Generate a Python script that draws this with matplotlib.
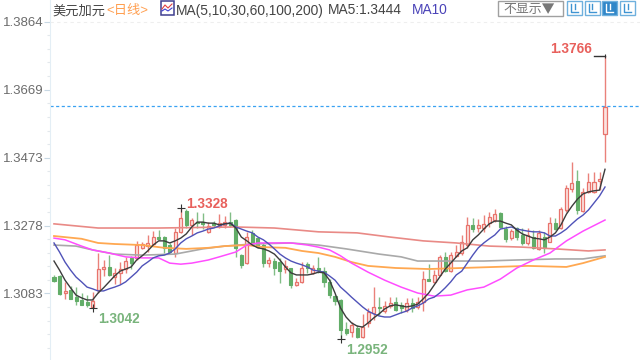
import numpy as np
import matplotlib
matplotlib.use("Agg")
import matplotlib.pyplot as plt
from matplotlib.patches import Rectangle

plt.rcParams['font.family'] = ['Liberation Sans', 'Noto Sans CJK SC', 'DejaVu Sans']

# Prices are written in units of 0.0001
direction = ("g g r g g g g r r r g r r r g r r r r g g g r r g r g g r g r r g g g r g g g r g g r g r r g r g "
             "g g g g g r g r r r g r r g g r g r r g r r g r r r r g r r r r g g r g g r g r g r g r r r g r r r r r").split()

tops = [13130,13133,13090,13093,13072,13064,13058,13061,13153,13159,13159,13142,13153,13176,13185,13222,13225,13228,13245,13245,
        13245,13222,13260,13300,13320,13294,13288,13288,13277,13285,13285,13288,13288,13294,13193,13245,13257,13242,13222,13179,
        13176,13173,13162,13156,13116,13156,13167,13156,13156,13147,13116,13075,13064,12980,12992,12983,12986,13029,13044,13044,
        13047,13055,13058,13050,13055,13055,13058,13124,13124,13136,13188,13188,13193,13202,13231,13280,13280,13280,13283,13303,
        13311,13314,13268,13262,13271,13251,13251,13245,13257,13245,13285,13285,13326,13386,13400,13406,13375,13403,13403,13412,13619]
bottoms = [13118,13081,13084,13067,13061,13050,13050,13044,13093,13153,13136,13130,13142,13153,13170,13185,13214,13219,13225,13240,
           13214,13202,13199,13260,13280,13280,13285,13283,13260,13280,13277,13280,13280,13214,13165,13170,13228,13216,13170,13170,
           13156,13147,13153,13107,13107,13116,13156,13142,13150,13116,13078,13061,12978,12969,12972,12957,12957,12998,13027,13041,
           13032,13047,13035,13041,13035,13041,13044,13058,13118,13116,13136,13147,13147,13191,13199,13222,13268,13271,13271,13285,
           13294,13274,13240,13242,13245,13228,13228,13214,13211,13214,13231,13268,13271,13323,13383,13323,13320,13375,13375,13406,13541]
highs = [13136,13136,13116,13104,13101,13084,13078,13087,13199,13179,13193,13156,13173,13188,13191,13234,13231,13251,13262,13265,
         13248,13228,13271,13328,13326,13300,13317,13314,13288,13291,13311,13306,13317,13297,13196,13260,13265,13245,13228,13188,
         13185,13185,13179,13156,13127,13173,13173,13165,13188,13159,13124,13078,13067,13001,13001,12992,13023,13041,13101,13072,
         13061,13072,13072,13058,13070,13070,13072,13147,13167,13150,13193,13202,13202,13222,13251,13303,13300,13297,13308,13317,
         13326,13317,13277,13268,13274,13271,13271,13265,13265,13260,13303,13300,13332,13395,13461,13438,13386,13429,13432,13432,13766]
lows = [13116,13078,13067,13067,13050,13050,13044,13042,13084,13133,13133,13110,13110,13142,13153,13179,13211,13202,13219,13237,
        13199,13199,13188,13257,13271,13251,13271,13268,13257,13274,13271,13271,13274,13188,13156,13167,13222,13214,13159,13159,
        13136,13113,13142,13098,13104,13113,13142,13139,13142,13101,13070,13050,12952,12963,12957,12955,12955,12986,13006,13021,
        13027,13041,13032,13027,13029,13029,13038,13032,13118,13113,13136,13144,13144,13188,13193,13214,13260,13260,13260,13274,
        13288,13271,13231,13237,13237,13222,13222,13211,13208,13199,13231,13265,13268,13317,13375,13311,13317,13372,13372,13380,13461]

ma5 = [13176,13150,13121,13099,13078,13070,13064,13064,13084,13099,13116,13133,13147,13153,13159,13179,13191,13205,13222,13234,
       13234,13228,13234,13242,13254,13274,13288,13288,13285,13285,13280,13283,13285,13271,13245,13234,13222,13214,13211,13205,
       13196,13179,13159,13142,13136,13136,13136,13139,13144,13142,13121,13084,13041,13015,12998,12989,12986,12998,13012,13024,
       13038,13047,13050,13047,13044,13047,13052,13067,13084,13107,13130,13153,13170,13188,13205,13214,13237,13251,13268,13283,
       13291,13291,13285,13280,13265,13254,13248,13242,13240,13237,13245,13257,13280,13311,13334,13354,13369,13375,13378,13380,13440]
ma10 = [13228,13202,13173,13150,13130,13116,13101,13096,13090,13090,13096,13101,13107,13116,13130,13144,13162,13173,13185,13191,
        13193,13199,13211,13228,13240,13248,13257,13262,13268,13271,13277,13283,13285,13274,13268,13262,13257,13245,13237,13225,
        13211,13196,13185,13176,13170,13165,13159,13150,13147,13144,13133,13121,13101,13087,13072,13058,13044,13032,13024,13018,
        13015,13015,13021,13027,13032,13041,13047,13055,13067,13072,13084,13099,13116,13136,13147,13170,13193,13214,13228,13240,
        13251,13268,13271,13274,13268,13265,13262,13260,13260,13257,13248,13248,13257,13268,13283,13297,13308,13323,13343,13363,13389]

ma30_idx = [0,2,5,7,10,13,16,19,21,23,25,28,30,33,35,37,43,46,48,50,52,54,57,60,63,66,69,72,75,78,81,84,87,90,93,96,100]
ma30 = [13242,13237,13219,13208,13199,13188,13185,13185,13170,13167,13170,13179,13188,13202,13222,13228,13228,13222,13216,13208,
        13191,13170,13144,13121,13101,13084,13075,13078,13093,13101,13124,13156,13179,13199,13234,13262,13294]
ma60_idx = [0,5,8,11,16,20,24,28,31,35,38,42,45,48,51,54,57,62,68,74,80,86,93,96,100]
ma60 = [13248,13240,13228,13225,13222,13214,13211,13214,13219,13222,13216,13214,13205,13199,13188,13173,13162,13156,13153,13156,
        13159,13162,13159,13170,13188]
ma100_idx = [0,4,7,11,16,22,27,31,36,43,48,53,59,63,66,72,78,84,91,96,100]
ma100 = [13222,13219,13208,13196,13193,13196,13211,13219,13225,13228,13222,13211,13196,13188,13176,13176,13176,13179,13182,13182,13191]
ma200_idx = [0,8,19,33,40,48,55,61,67,73,79,85,91,97,100]
ma200 = [13283,13271,13271,13274,13271,13260,13257,13245,13234,13228,13219,13216,13211,13205,13208]

y_ticks = [1.3083, 1.3278, 1.3473, 1.3669, 1.3864]
y_tick_labels = ["1.3083", "1.3278", "1.3473", "1.3669", "1.3864"]
last_price = 1.3621

RED, RED_FILL, GREEN = "#e8736c", "#fbe3e0", "#62ad68"

fig = plt.figure(figsize=(6.4, 3.6), dpi=100, facecolor="white")
ax = fig.add_axes([0, 0, 1, 1])
ax.set_xlim(-9.8, 106.35)
ax.set_ylim(1.3927 - 360 * 0.0002877, 1.3927)

n = len(highs)
xs = np.arange(n)
to_price = lambda a: np.asarray(a, float) / 1e4
is_up = np.array([d == "r" for d in direction])
t, b, h, l = map(to_price, (tops, bottoms, highs, lows))

ax.vlines(xs[is_up], l[is_up], h[is_up], color=RED, lw=1.0, alpha=.9, zorder=2)
ax.vlines(xs[~is_up], l[~is_up], h[~is_up], color=GREEN, lw=1.0, alpha=.8, zorder=2)
ax.bar(xs[is_up], (t - b)[is_up], bottom=b[is_up], width=0.55, facecolor=RED_FILL, edgecolor=RED, lw=0.9, zorder=3)
ax.bar(xs[~is_up], (t - b)[~is_up], bottom=b[~is_up], width=0.55, facecolor=GREEN, edgecolor=GREEN, lw=0.8, zorder=3)

ax.plot(ma200_idx, to_price(ma200), color="#e98a86", lw=1.2, zorder=4)
ax.plot(ma100_idx, to_price(ma100), color="#a9a9a9", lw=1.2, zorder=4)
ax.plot(ma60_idx, to_price(ma60), color="#ffa851", lw=1.3, zorder=4)
ax.plot(ma30_idx, to_price(ma30), color="#ff4dff", lw=1.1, zorder=5)
ax.plot(xs, to_price(ma10), color="#4f52b8", lw=1.0, zorder=6)
ax.plot(xs, to_price(ma5), color="#3c3c3c", lw=1.0, zorder=7)

# axis
for s in ("top", "right", "bottom"):
    ax.spines[s].set_visible(False)
ax.spines["left"].set_position(("data", -0.72))
ax.spines["left"].set_color("#e3eef5")
ax.patch.set_alpha(0)
ax.set_xticks([])
ax.set_yticks(y_ticks)
ax.set_yticklabels(y_tick_labels, fontsize=9.5, color="#6b6b6b")
ax.tick_params(axis="y", which="major", length=4, color="#c8d8e4", width=0.8, pad=0.5)
ax.set_yticks([v + k * 0.00391 for v in y_ticks for k in range(1, 5)][:-4] +
              [y_ticks[0] - k * 0.00391 for k in range(1, 5)], minor=True)
ax.tick_params(axis="y", which="minor", length=2, color="#e3e8ec", width=0.8)

ax.plot([-0.72, 106.35], [y_ticks[-1]] * 2, color="#eeeeee", lw=0.8, ls=(0, (3, 3)), zorder=1)
ax.plot([-0.72, 106.35], [last_price] * 2, color="#3aa2f2", lw=0.9, ls=(0, (2.5, 2)), zorder=1)

# extreme markers
ax.plot([98, 100], [h[100]] * 2, color="#333333", lw=1.0, zorder=8)
ax.plot([100], [h[100]], marker="|", ms=3, color="#333333", mew=.8, zorder=8)
for i, v in ((23, h[23]), (7, l[7]), (52, l[52])):
    ax.plot([i], [v], marker="+", ms=6, color="#333333", mew=.8, zorder=8)
ax.text(97.7, 1.3766 + 0.0019, "1.3766", color="#e8605c", fontsize=9.8, fontweight="bold", ha="right", va="center")
ax.text(24.0, 1.3328 + 0.0011, "1.3328", color="#e8605c", fontsize=9.8, fontweight="bold", ha="left", va="center")
ax.text(8.0, 1.3042 - 0.0033, "1.3042", color="#79b47c", fontsize=9.8, fontweight="bold", ha="left", va="center")
ax.text(53.0, 1.2952 - 0.0033, "1.2952", color="#79b47c", fontsize=9.8, fontweight="bold", ha="left", va="center")

# header chrome, in pixel coordinates
top = fig.add_axes([0, 0, 1, 1], zorder=10)
top.set_xlim(0, 640)
top.set_ylim(360, 0)
top.axis("off")
top.patch.set_alpha(0)
top.text(52, 11, "美元加元", fontsize=9.5, color="#444444", va="center")
top.text(106, 11, "<日线>", fontsize=9.5, color="#ff9f50", va="center")
top.add_patch(Rectangle((160.5, 0.5), 13, 14, fc="white", ec="#3f3f8f", lw=1.1))
top.plot([162, 165, 168, 172], [9, 5, 8, 4], color="#e04040", lw=.8)
top.plot([162, 165, 168, 172], [11, 9, 11, 8], color="#4040d0", lw=.8)
top.text(176, 10.5, "MA(5,10,30,60,100,200)", fontsize=9.9, color="#444444", va="center")
top.text(328, 10.5, "MA5:1.3444", fontsize=9.9, color="#444444", va="center")
top.text(412, 10.5, "MA10", fontsize=9.9, color="#4a43b8", va="center")
top.add_patch(Rectangle((497.5, 0.5), 65, 15.5, fc="white", ec="#a0a0a0", lw=1))
top.text(503, 9.5, "不显示▼", fontsize=9.3, color="#777777", va="center",
         family=['Noto Sans CJK SC', 'DejaVu Sans'])
for x0, fill in ((567, False), (584.5, False), (602, True), (620, False)):
    top.add_patch(Rectangle((x0, 0.5), 15, 14.5, fc="#2f86c8" if fill else "white", ec="#6fb0dd", lw=1))
    c = "white" if fill else "#3f94d2"
    top.plot([x0 + 4, x0 + 4, x0 + 11], [3.5, 11.5, 11.5], color=c, lw=1)
    top.plot([x0 + 7.5, x0 + 7.5], [4, 9], color=c, lw=1)

fig.savefig("out.png", dpi=100)
